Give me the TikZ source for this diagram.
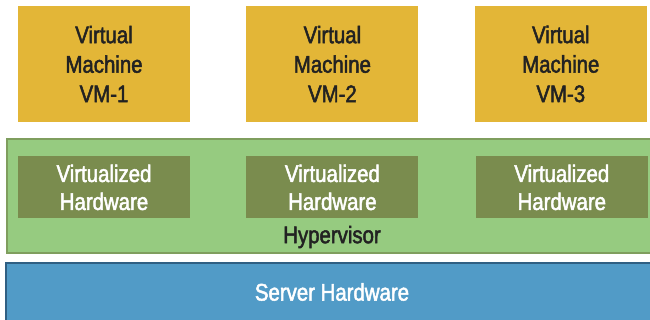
\documentclass[tikz,border=0pt]{standalone}
\usepackage{fontspec}
\setmainfont{Liberation Sans}[FakeStretch=0.85, FakeBold=2]
\usepackage{tikz}
\usetikzlibrary{positioning}
\definecolor{vmyellow}{HTML}{E3B637}
\definecolor{hypgreen}{HTML}{96CB80}
\definecolor{hypline}{HTML}{7F9E5E}
\definecolor{vhgreen}{HTML}{7A8C4E}
\definecolor{srvblue}{HTML}{519BC7}
\definecolor{srvline}{HTML}{2F5F83}
\definecolor{txtdark}{HTML}{222222}

\begin{document}
\begin{tikzpicture}[
        font=\fontsize{24}{29.5}\selectfont,
        vm/.style={fill=vmyellow, text=txtdark, align=center, minimum width=172pt, minimum height=116pt, inner sep=0pt},
        vh/.style={fill=vhgreen, text=white, align=center, minimum width=172pt, minimum height=62pt, inner sep=0pt, font=\fontsize{24}{28}\selectfont},
        hyp/.style={fill=hypgreen, draw=hypline, line width=2pt, minimum width=645pt, minimum height=114pt, inner sep=0pt},
        srv/.style={fill=srvblue, draw=srvline, line width=2pt, minimum width=646pt, minimum height=59pt, inner sep=0pt},
        lbl/.style={inner sep=0pt}
    ]
        \useasboundingbox (0,0) rectangle (650pt,-320pt);

        % hypervisor layer and server underneath
        \node[hyp] (hyp) at (329.5pt,-196pt) {};
        \node[srv] (server) at (329pt,-292.5pt) {};
        \node[lbl, text=white] (servertext) at (332pt,-292pt) {Server Hardware};
        \node[lbl, text=txtdark] (hyptext) at (332pt,-237pt) {Hypervisor};

        % virtual machines
        \node[vm] (vm1) at (104pt,-64pt) {Virtual\\Machine\\VM-1};
        \node[vm, right=56pt of vm1] (vm2) {Virtual\\Machine\\VM-2};
        \node[vm, right=56pt of vm2] (vm3) {Virtual\\Machine\\VM-3};

        % virtualized hardware
        \node[vh, below=34pt of vm1] (vh1) {Virtualized\\Hardware};
        \node[vh, below=34pt of vm2] (vh2) {Virtualized\\Hardware};
        \node[vh, below=34pt of vm3, xshift=1pt] (vh3) {Virtualized\\Hardware};
    \end{tikzpicture}
\end{document}
